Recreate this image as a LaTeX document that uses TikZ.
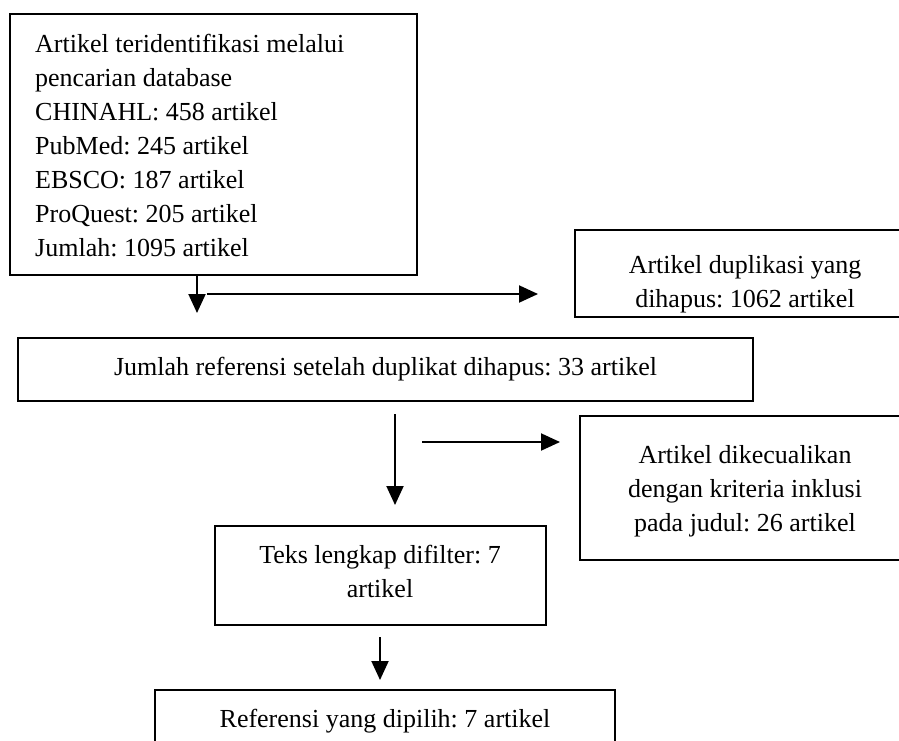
\documentclass[tikz,border=0pt]{standalone}
\usepackage{fontspec}
\setmainfont{Liberation Serif}
\usetikzlibrary{arrows.meta}
\newcommand\ftA{\fontsize{26}{34}\selectfont\frenchspacing}
\begin{document}
\begin{tikzpicture}[x=1pt,y=-1pt,
  boxnode/.style={draw=black, line width=2.6pt, inner sep=0pt},
  txt/.style={inner sep=0pt, font=\ftA, align=center, anchor=north},
  arr/.style={line width=2pt, -{Triangle[length=19pt,width=17pt]}}
]
\useasboundingbox (0,0) rectangle (899,740);
\clip (0,0) rectangle (899,740);
% boxes
\node[boxnode, minimum width=407pt, minimum height=261pt] (b1) at (213.5,144.5) {};
\node[boxnode, minimum width=340pt, minimum height=87pt] (b2) at (745,273.5) {};
\node[boxnode, minimum width=735pt, minimum height=63pt] (b3) at (385.5,369.5) {};
\node[boxnode, minimum width=330pt, minimum height=144pt] (b4) at (745,488) {};
\node[boxnode, minimum width=331pt, minimum height=99pt] (b5) at (380.5,575.5) {};
\node[boxnode, minimum width=460pt, minimum height=70pt] (b6) at (385,725) {};
% texts (first baseline = y + 23.8)
\node[txt, align=left, anchor=north west] (t1) at (35,28.5)
  {\strut Artikel teridentifikasi melalui\\pencarian database\\CHINAHL: 458 artikel\\PubMed: 245 artikel\\EBSCO: 187 artikel\\ProQuest: 205 artikel\\Jumlah: 1095 artikel};
\node[txt] (t2) at (745,249.2) {\strut Artikel duplikasi yang\\dihapus: 1062 artikel};
\node[txt] (t3) at (385.5,351.2) {\strut Jumlah referensi setelah duplikat dihapus: 33 artikel};
\node[txt] (t4) at (745,439.2) {\strut Artikel dikecualikan\\dengan kriteria inklusi\\pada judul: 26 artikel};
\node[txt] (t5) at (380,539.2) {\strut Teks lengkap difilter: 7\\artikel};
\node[txt] (t6) at (385,703) {\strut Referensi yang dipilih: 7 artikel};
% connector end points
\coordinate (p1b) at (197,313);
\coordinate (p2a) at (207,294);
\coordinate (p2b) at (538,294);
\coordinate (p3a) at (395,414);
\coordinate (p3b) at (395,505);
\coordinate (p4a) at (422,442);
\coordinate (p4b) at (560,442);
\coordinate (p5a) at (380,637);
\coordinate (p5b) at (380,680);
% arrows
\draw[arr] (b1.south -| p1b) -- (p1b);
\draw[arr] (p2a) -- (p2b);
\draw[arr] (p3a) -- (p3b);
\draw[arr] (p4a) -- (p4b);
\draw[arr] (p5a) -- (p5b);
\end{tikzpicture}
\end{document}
